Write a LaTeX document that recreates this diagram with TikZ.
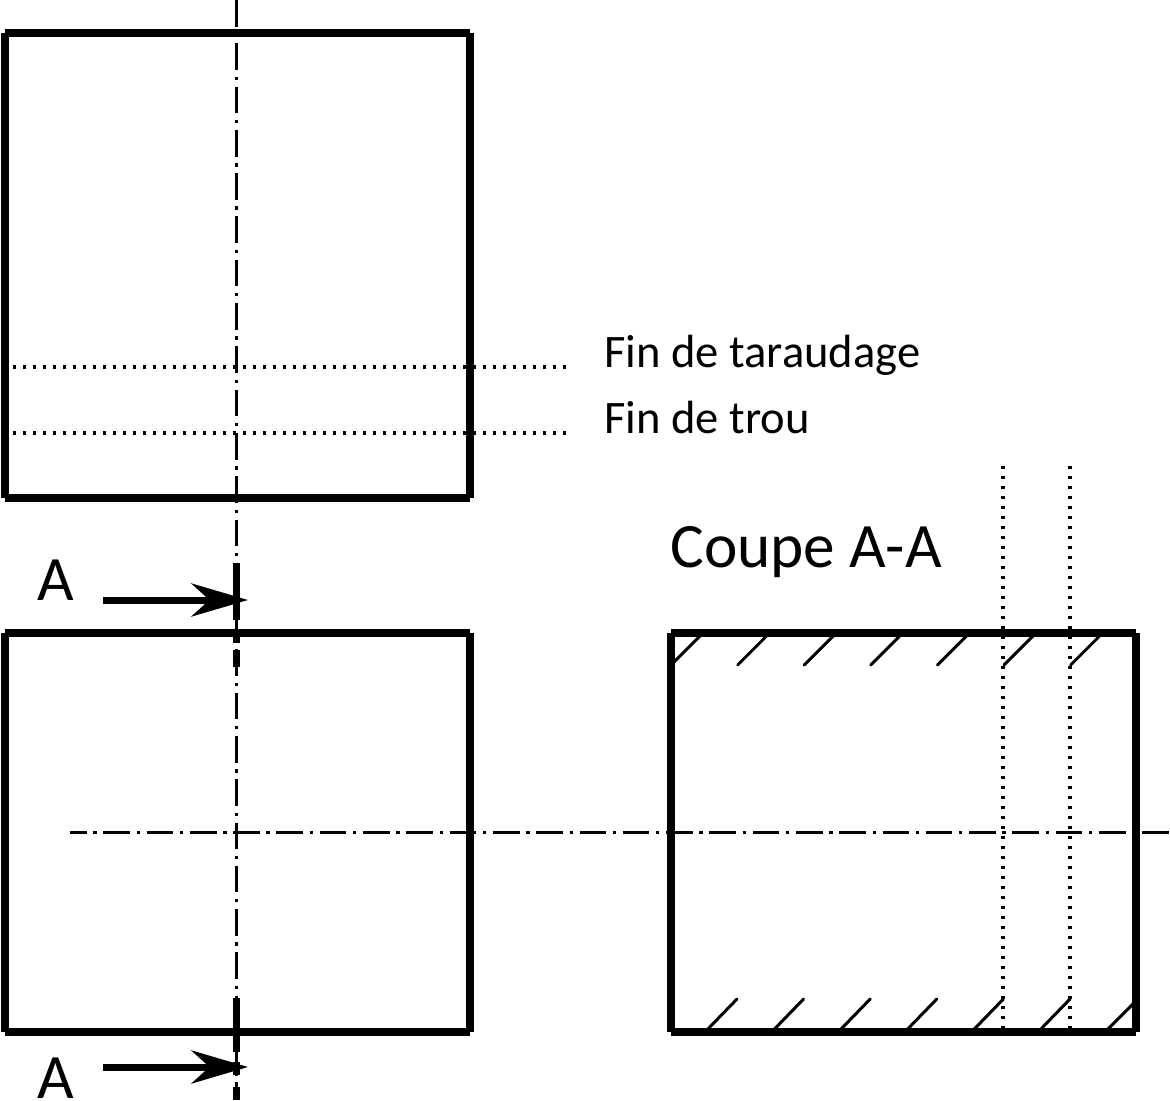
\documentclass[tikz,border=0pt]{standalone}
\usepackage{fontspec}
\setmainfont{Carlito}
\usetikzlibrary{arrows.meta}
\tikzset{
	contour/.style={line width=.15cm},
	axe/.style={line width=.067cm,dash pattern=on .533cm off .133cm on .067cm off .133cm},
	pointille/.style={line width=.067cm,dash pattern=on .067cm off .133cm},
	hachure/.style={line width=.06cm,line cap=round},
	coupe/.style={line width=.14cm},
	fleche/.style={line width=.14cm,-{Stealth[length=1.13cm,width=.66cm,inset=.36cm]}},
	texte/.style={anchor=base west,inner sep=0pt,font=\fontsize{26.5}{32}\selectfont},
	grandtexte/.style={anchor=base west,inner sep=0pt,font=\fontsize{36}{43}\selectfont},
}
\begin{document}
\begin{tikzpicture}[x=.02cm,y=-.02cm]
	\useasboundingbox(0,0)rectangle(1170,1100);
	% vues
	\foreach \xa/\ya/\xb/\yb in {5/33/470/498,5/633/470/1032,671/633/1136/1032}{
		\draw[contour](\xa,\ya)--(\xb,\ya)(\xb,\ya)--(\xb,\yb)(\xb,\yb)--(\xa,\yb)(\xa,\yb)--(\xa,\ya);
	}
	% axes
	\draw[axe](236.7,0)--(236.7,1100);
	\draw[axe,dash phase=.2cm](70,832.6)--(1170,832.6);
	% fin de taraudage, fin de trou
	\foreach \y in {367,433}
		\draw[pointille](13,\y)--(567,\y);
	\foreach \x in {1003,1070}
		\draw[pointille](\x,466)--(\x,1032);
	% hachures
	\foreach \x in {0,...,6}{
		\draw[hachure](671+66.6*\x,665)--(703+66.6*\x,633);
	}
	\foreach \x in {0,...,4}{
		\draw[hachure](705+66.6*\x,1032)--(737+66.6*\x,999);
	}
	\draw[hachure](1038,1032)--(1070,999);
	\draw[hachure](1105,1032)--(1136,1001);
	% plan de coupe
	\draw[coupe](236.7,563)--(236.7,620)(236.7,630)--(236.7,643)(236.7,650)--(236.7,667);
	\draw[coupe](236.7,998)--(236.7,1052)(236.7,1062)--(236.7,1075)(236.7,1087)--(236.7,1100);
	\coordinate(departA)at(103,600);
	\coordinate(finA)at(248,600);
	\coordinate(departB)at(103,1067);
	\coordinate(finB)at(248,1067);
	\draw[fleche](departA)--(finA);
	\draw[fleche](departB)--(finB);
	% textes
	\node[texte](taraudage)at(604,367){Fin de taraudage};
	\node[texte](trou)at(604,433){Fin de trou};
	\node[grandtexte](titre)at(670,567){Coupe A-A};
	\node[grandtexte](lettreA)at(37,600){A};
	\node[grandtexte](lettreB)at(37,1098){A};
\end{tikzpicture}
\end{document}
